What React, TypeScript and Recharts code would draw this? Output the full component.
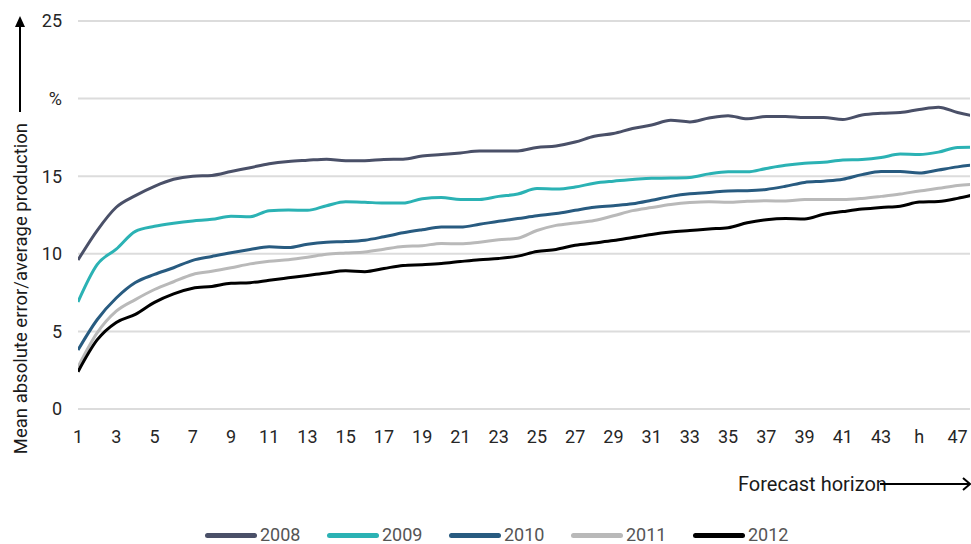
import React from "react";
import { LineChart, Line, XAxis, YAxis, CartesianGrid, Legend } from "recharts";

const hours = [
  1, 2, 3, 4, 5, 6, 7, 8, 9, 10, 11, 12, 13, 14, 15, 16, 17, 18, 19, 20, 21, 22, 23, 24,
  25, 26, 27, 28, 29, 30, 31, 32, 33, 34, 35, 36, 37, 38, 39, 40, 41, 42, 43, 44, 45, 46, 47, 48,
];

const y2008 = [
  9.6, 11.5, 13.0, 13.75, 14.35, 14.8, 15.0, 15.05, 15.3, 15.55, 15.8, 15.95,
  16.03, 16.1, 16.0, 16.0, 16.08, 16.1, 16.3, 16.4, 16.5, 16.62, 16.62, 16.63,
  16.85, 16.95, 17.2, 17.57, 17.75, 18.07, 18.3, 18.6, 18.5, 18.75, 18.9, 18.7,
  18.85, 18.85, 18.78, 18.78, 18.65, 18.94, 19.05, 19.1, 19.3, 19.45, 19.1, 18.85,
];
const y2009 = [
  6.9, 9.3, 10.3, 11.45, 11.77, 11.97, 12.12, 12.22, 12.42, 12.39, 12.77, 12.82,
  12.8, 13.1, 13.35, 13.32, 13.27, 13.27, 13.55, 13.62, 13.5, 13.5, 13.7, 13.85,
  14.2, 14.17, 14.3, 14.55, 14.68, 14.78, 14.87, 14.88, 14.92, 15.15, 15.28, 15.28,
  15.5, 15.7, 15.83, 15.9, 16.05, 16.08, 16.2, 16.43, 16.4, 16.55, 16.85, 16.87,
];
const y2010 = [
  3.8, 5.75, 7.15, 8.15, 8.67, 9.1, 9.58, 9.83, 10.07, 10.28, 10.45, 10.4,
  10.62, 10.75, 10.79, 10.88, 11.1, 11.35, 11.55, 11.73, 11.72, 11.9, 12.1, 12.27,
  12.45, 12.6, 12.8, 13.0, 13.1, 13.22, 13.45, 13.7, 13.87, 13.95, 14.05, 14.07,
  14.15, 14.35, 14.6, 14.68, 14.8, 15.1, 15.3, 15.3, 15.2, 15.4, 15.6, 15.75,
];
const y2011 = [
  2.7, 4.9, 6.3, 7.05, 7.7, 8.2, 8.67, 8.87, 9.1, 9.35, 9.52, 9.62,
  9.78, 9.97, 10.05, 10.12, 10.3, 10.47, 10.52, 10.67, 10.64, 10.75, 10.9, 11.0,
  11.5, 11.83, 11.99, 12.15, 12.45, 12.78, 12.98, 13.17, 13.3, 13.36, 13.32, 13.38,
  13.42, 13.4, 13.5, 13.5, 13.5, 13.57, 13.7, 13.85, 14.05, 14.22, 14.4, 14.5,
];
const y2012 = [
  2.4, 4.45, 5.58, 6.1, 6.87, 7.42, 7.78, 7.9, 8.1, 8.14, 8.3, 8.45,
  8.6, 8.77, 8.9, 8.85, 9.05, 9.25, 9.3, 9.37, 9.5, 9.62, 9.7, 9.85,
  10.15, 10.28, 10.55, 10.7, 10.85, 11.05, 11.25, 11.4, 11.5, 11.6, 11.68, 12.0,
  12.2, 12.28, 12.25, 12.55, 12.72, 12.88, 12.99, 13.07, 13.33, 13.37, 13.57, 13.85,
];

const xTicks = [1, 3, 5, 7, 9, 11, 13, 15, 17, 19, 21, 23, 25, 27, 29, 31, 33, 35, 37, 39, 41, 43, 45, 47];
const yTicks = [0, 5, 10, 15, 20, 25];

const series = [
  { key: "2008", values: y2008, color: "#4a5068" },
  { key: "2009", values: y2009, color: "#2bb2b4" },
  { key: "2010", values: y2010, color: "#285b80" },
  { key: "2011", values: y2011, color: "#b9b9b9" },
  { key: "2012", values: y2012, color: "#000000" },
];

const data = hours.map((h, i) => {
  const row: Record<string, number> = { h };
  series.forEach((s) => (row[s.key] = s.values[i]));
  return row;
});

const FONT = "Roboto, sans-serif";
const tickStyle = { fontSize: 18, fill: "#262626", fontFamily: FONT };

function YTitle() {
  return (
    <g>
      <text
        x={27}
        y={123}
        transform="rotate(-90 27 123)"
        textAnchor="end"
        fontSize={18.5}
        fontFamily={FONT}
        fill="#1a1a1a"
      >
        Mean absolute error/average production
      </text>
      <line x1={20} y1={112} x2={20} y2={22} stroke="#000" strokeWidth={2} />
      <polygon points="20,16 15,27 25,27" fill="#000" />
    </g>
  );
}

function XTitle() {
  return (
    <g>
      <text x={738} y={491} fontSize={20} fontFamily={FONT} fill="#1a1a1a">
        Forecast horizon
      </text>
      <line x1={880} y1={484} x2={969} y2={484} stroke="#000" strokeWidth={2} />
      <polyline points="963,478 970,484 963,490" fill="none" stroke="#000" strokeWidth={2} />
    </g>
  );
}

function LegendContent() {
  return (
    <div style={{ display: "flex", height: 18, alignItems: "center", fontFamily: FONT }}>
      {series.map((s) => (
        <div key={s.key} style={{ display: "flex", alignItems: "center", width: 122 }}>
          <span
            style={{
              display: "inline-block",
              width: 52,
              height: 5,
              borderRadius: 3,
              background: s.color,
            }}
          />
          <span style={{ marginLeft: 3, fontSize: 18, color: "#555", lineHeight: "18px" }}>{s.key}</span>
        </div>
      ))}
    </div>
  );
}

export default function App() {
  return (
    <div style={{ position: "absolute", left: 0, top: 0, width: 971, height: 544, overflow: "hidden", background: "#fff" }}>
      <LineChart width={971} height={544} data={data} margin={{ top: 21, right: 1, left: 0, bottom: 0 }}>
        <CartesianGrid vertical={false} stroke="#dcdcdc" strokeWidth={2} />
        <XAxis
          dataKey="h"
          type="number"
          domain={[1, 47.65]}
          allowDataOverflow
          ticks={xTicks}
          tickFormatter={(v) => (v === 45 ? "h" : String(v))}
          tick={tickStyle}
          tickLine={false}
          axisLine={false}
          tickSize={0}
          tickMargin={21}
          height={117}
          interval={0}
        />
        <YAxis
          type="number"
          domain={[0, 25]}
          ticks={yTicks}
          tickFormatter={(v) => (v === 20 ? "%" : String(v))}
          tick={tickStyle}
          tickLine={false}
          axisLine={false}
          tickSize={0}
          tickMargin={16}
          width={78}
        />
        <Legend
          verticalAlign="bottom"
          content={<LegendContent />}
          wrapperStyle={{ left: 205, width: 620 }}
        />
        {series.map((s) => (
          <Line
            key={s.key}
            dataKey={s.key}
            name={s.key}
            type="monotone"
            stroke={s.color}
            strokeWidth={3}
            dot={false}
            isAnimationActive={false}
          />
        ))}
        <YTitle />
        <XTitle />
      </LineChart>
    </div>
  );
}
